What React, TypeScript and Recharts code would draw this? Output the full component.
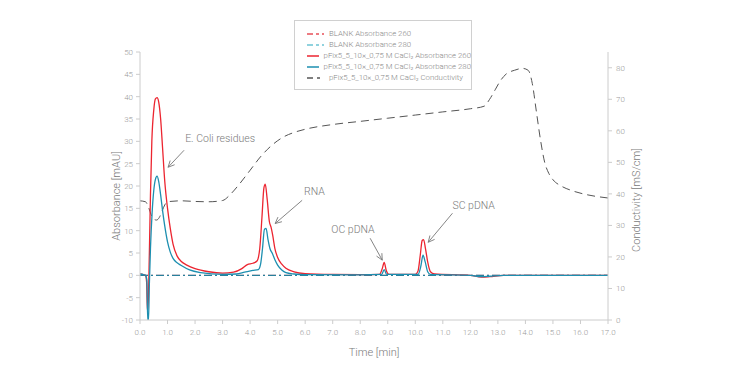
import React from 'react';
import { LineChart, Line, XAxis, YAxis, ReferenceLine, ReferenceDot, Label } from 'recharts';

const timeTicks = [0, 1, 2, 3, 4, 5, 6, 7, 8, 9, 10, 11, 12, 13, 14, 15, 16, 17];
const absTicks = [-10, -5, 0, 5, 10, 15, 20, 25, 30, 35, 40, 45, 50];
const condTicks = [0, 10, 20, 30, 40, 50, 60, 70, 80];

// Absorbance 260 (sample)
const t260 = [0, 0.1, 0.2, 0.24, 0.27, 0.3, 0.34, 0.38, 0.43, 0.5, 0.56, 0.62, 0.68, 0.75, 0.82, 0.9, 1.0, 1.1, 1.2, 1.35, 1.5, 1.7, 2.0, 2.5, 3.0, 3.4, 3.7, 3.9, 4.1, 4.25, 4.35, 4.43, 4.5, 4.55, 4.62, 4.7, 4.76, 4.82, 4.9, 5.0, 5.15, 5.3, 5.6, 6.0, 7.0, 8.0, 8.7, 8.8, 8.87, 8.94, 9.05, 10.0, 10.1, 10.18, 10.25, 10.3, 10.37, 10.45, 10.55, 10.7, 12.0, 12.4, 12.7, 13.2, 17.0];
const abs260 = [0.3, 0.2, 0, -1.5, -8, -6, 5, 18, 30, 37, 39.5, 39.8, 38.8, 35, 28.5, 21, 15, 10.5, 7, 4.3, 3.1, 2.3, 1.5, 0.8, 0.5, 0.7, 1.5, 2.4, 2.7, 3.2, 6, 13, 19.5, 20.4, 17, 12, 10.8, 9, 6, 4, 2.5, 1.6, 0.8, 0.4, 0.2, 0.15, 0.2, 1.5, 2.9, 1.2, 0.2, 0.2, 1, 4.5, 7.8, 8.0, 6, 3, 0.8, 0.3, 0, -0.4, -0.3, 0, 0];

// Absorbance 280 (sample)
const t280 = [0, 0.1, 0.2, 0.25, 0.28, 0.31, 0.34, 0.38, 0.44, 0.5, 0.56, 0.62, 0.68, 0.75, 0.82, 0.9, 1.0, 1.1, 1.2, 1.35, 1.5, 1.8, 2.2, 3.0, 3.5, 3.8, 4.1, 4.3, 4.38, 4.45, 4.52, 4.58, 4.65, 4.72, 4.8, 4.9, 5.0, 5.15, 5.3, 5.6, 6.0, 8.0, 8.78, 8.87, 8.96, 10.1, 10.2, 10.28, 10.36, 10.45, 10.55, 12.0, 12.4, 12.7, 13.2, 17];
const abs280 = [0.3, 0.2, 0, -1, -10, -10, -2, 6, 14, 19, 21.5, 22.2, 21, 18, 14.5, 11, 7.5, 5.2, 3.8, 2.8, 2.2, 1.2, 0.6, 0.2, 0.3, 0.7, 1.1, 1.3, 2.5, 6, 10.3, 10.5, 8, 6, 5, 3.5, 2.3, 1.2, 0.6, 0.3, 0.15, 0.1, 0.2, 1.3, 0.2, 0.2, 2, 4.5, 3, 0.8, 0.2, 0, -0.3, -0.2, 0, 0];

// Conductivity (right axis)
const tCond = [0, 0.2, 0.3, 0.4, 0.5, 0.6, 0.7, 0.8, 0.9, 1.0, 1.5, 2.0, 2.5, 3.0, 3.3, 3.6, 4.0, 4.4, 4.8, 5.2, 5.6, 6.0, 7.0, 8.0, 9.0, 10.0, 11.0, 12.0, 12.5, 12.7, 12.9, 13.1, 13.3, 13.6, 13.9, 14.1, 14.25, 14.4, 14.55, 14.7, 14.85, 15.0, 15.3, 15.7, 16.2, 17.0];
const cond = [37.8, 37.5, 36, 33.5, 32, 31.7, 32.5, 34.5, 36.5, 37.5, 37.8, 37.6, 37.5, 37.9, 40, 43, 47.5, 52, 55.5, 58, 59.5, 60.5, 62, 63, 64, 65, 66, 67, 67.8, 70, 73, 76, 78, 79.2, 79.8, 79.2, 75, 66, 57, 50, 46.5, 44.5, 42.5, 41, 39.8, 38.7];

// Blanks
const tBlank = [0, 17];
const blank260 = [0, 0];
const blank280 = [0, 0];

// annotations (data units, left axis)
const annoText = ['E. Coli residues', 'RNA', 'OC pDNA', 'SC pDNA'];
const annoFrom = [[1.6, 28.0], [5.89, 16.8], [8.36, 8.3], [11.35, 13.9]];
const annoTo = [[1.02, 24.2], [4.91, 11.6], [8.8, 3.4], [10.47, 7.4]];
const annoLabel = [[1.64, 30.4], [5.96, 18.7], [6.95, 10.2], [11.35, 15.4]];

const RED = '#ec2530';
const TEAL = '#1d8fb0';
const GREY = '#9a9a9a';
const LABEL = '#7a7a7a';

const pts = (ts: number[], vs: number[]) => ts.map((t, i) => ({ t, v: vs[i] }));

const legendItems = [
  { name: 'BLANK Absorbance 260', color: '#e8505a', dash: '6 3 3 3' },
  { name: 'BLANK Absorbance 280', color: '#6cc3d3', dash: '6 3 3 3' },
  { name: 'pFix5_5_10×_0,75 M CaCl₂ Absorbance 260', color: RED, dash: undefined },
  { name: 'pFix5_5_10×_0,75 M CaCl₂ Absorbance 280', color: TEAL, dash: undefined },
  { name: 'pFix5_5_10×_0,75 M CaCl₂ Conductivity', color: '#555', dash: '6 4 3 4' },
];

const Arrow = (props: any) => {
  const { x1, y1, x2, y2 } = props;
  const a = Math.atan2(y2 - y1, x2 - x1);
  const L = 7;
  const s = 0.45;
  return (
    <g stroke="#777" strokeWidth={0.9} fill="none">
      <line x1={x1} y1={y1} x2={x2} y2={y2} />
      <polyline
        points={`${x2 - L * Math.cos(a - s)},${y2 - L * Math.sin(a - s)} ${x2},${y2} ${x2 - L * Math.cos(a + s)},${y2 - L * Math.sin(a + s)}`}
      />
    </g>
  );
};

export default function App() {
  return (
    <div style={{ position: 'absolute', left: 0, top: 0, width: 749, height: 372, background: '#fff', fontFamily: 'Roboto, sans-serif' }}>
      <LineChart width={749} height={372} margin={{ top: 52, right: 96, bottom: 22, left: 95 }}>
        <XAxis
          type="number"
          dataKey="t"
          domain={[0, 17]}
          ticks={timeTicks}
          tickFormatter={(v: number) => v.toFixed(1)}
          allowDataOverflow
          height={30}
          stroke="#ccc"
          tickSize={4}
          tickMargin={5}
          tick={{ fontSize: 8, fill: GREY, fontWeight: 300 }}
        >
          <Label value="Time [min]" position="bottom" offset={-2} style={{ fontSize: 11, fill: LABEL, fontWeight: 300 }} />
        </XAxis>
        <YAxis
          yAxisId="left"
          domain={[-10, 50]}
          ticks={absTicks}
          allowDataOverflow
          width={45}
          stroke="#ccc"
          tickSize={4}
          tickMargin={3}
          tick={{ fontSize: 8, fill: GREY, fontWeight: 300 }}
        >
          <Label
            content={({ viewBox }: any) => {
              const x = viewBox.x + 22;
              const y = viewBox.y + viewBox.height / 2 + 10;
              return (
                <text x={x} y={y} transform={`rotate(-90 ${x} ${y})`} textAnchor="middle" dominantBaseline="middle" fontSize={11} fontWeight={300} fill={LABEL}>
                  Absorbance [mAU]
                </text>
              );
            }}
          />
        </YAxis>
        <YAxis
          yAxisId="right"
          orientation="right"
          domain={[0, 85]}
          ticks={condTicks}
          allowDataOverflow
          width={45}
          stroke="#ccc"
          tickSize={4}
          tickMargin={4}
          tick={{ fontSize: 8, fill: GREY, fontWeight: 300 }}
        >
          <Label
            content={({ viewBox }: any) => {
              const x = viewBox.x + 29;
              const y = viewBox.y + viewBox.height / 2 + 14;
              return (
                <text x={x} y={y} transform={`rotate(-90 ${x} ${y})`} textAnchor="middle" dominantBaseline="middle" fontSize={11} fontWeight={300} fill={LABEL}>
                  Conductivity [mS/cm]
                </text>
              );
            }}
          />
        </YAxis>

        <Line yAxisId="right" data={pts(tCond, cond)} dataKey="v" type="monotone" stroke="#555" strokeWidth={1} strokeDasharray="8 5" dot={false} isAnimationActive={false} />
        <Line yAxisId="left" data={pts(tBlank, blank260)} dataKey="v" type="linear" stroke="#e8505a" strokeWidth={1} strokeDasharray="8 3 2 3" dot={false} isAnimationActive={false} />
        <Line yAxisId="left" data={pts(tBlank, blank280)} dataKey="v" type="linear" stroke="#27809c" strokeWidth={1.2} strokeDasharray="8 3 2 3" dot={false} isAnimationActive={false} />
        <Line yAxisId="left" data={pts(t260, abs260)} dataKey="v" type="monotone" stroke={RED} strokeWidth={1.3} dot={false} isAnimationActive={false} />
        <Line yAxisId="left" data={pts(t280, abs280)} dataKey="v" type="monotone" stroke={TEAL} strokeWidth={1.3} dot={false} isAnimationActive={false} />

        {annoText.map((txt, i) => (
          <ReferenceLine
            key={'a' + i}
            yAxisId="left"
            segment={[{ x: annoFrom[i][0], y: annoFrom[i][1] }, { x: annoTo[i][0], y: annoTo[i][1] }]}
            shape={Arrow}
            ifOverflow="visible"
          />
        ))}
        {annoText.map((txt, i) => (
          <ReferenceDot
            key={'l' + i}
            yAxisId="left"
            x={annoLabel[i][0]}
            y={annoLabel[i][1]}
            ifOverflow="visible"
            shape={(p: any) => (
              <text x={p.cx} y={p.cy} dominantBaseline="middle" fontSize={10.5} fontWeight={300} fill={LABEL}>
                {txt}
              </text>
            )}
          />
        ))}
      </LineChart>

      <div
        style={{
          position: 'absolute',
          left: 294,
          top: 20,
          width: 178,
          height: 70,
          border: '1px solid #d0d0d0',
          boxSizing: 'border-box',
          paddingTop: 7,
        }}
      >
        {legendItems.map((it) => (
          <div key={it.name} style={{ display: 'flex', alignItems: 'center', height: 11, paddingLeft: 12 }}>
            <svg width={17} height={6} style={{ marginRight: 5 }}>
              <line x1={0} y1={3} x2={17} y2={3} stroke={it.color} strokeWidth={1.5} strokeDasharray={it.dash} />
            </svg>
            <span style={{ fontSize: 7.8, color: '#888', fontWeight: 300, whiteSpace: 'nowrap' }}>{it.name}</span>
          </div>
        ))}
      </div>
    </div>
  );
}
